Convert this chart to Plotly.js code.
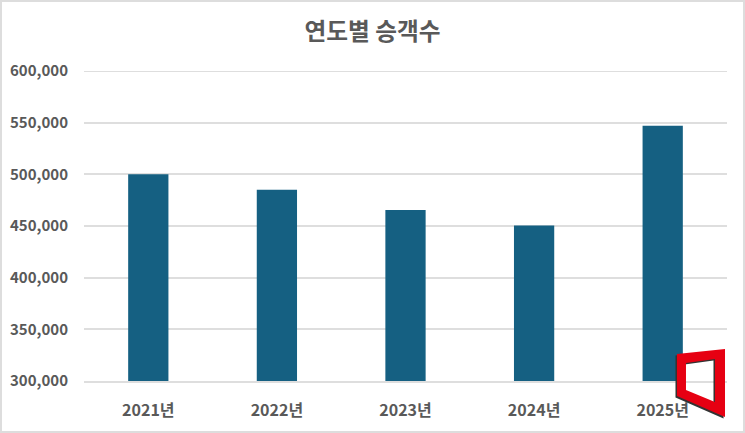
<!DOCTYPE html>
<html><head><meta charset="utf-8">
<script src="https://cdn.plot.ly/plotly-3.0.0.min.js"></script>
<style>html,body{margin:0;padding:0;background:#fff}</style></head>
<body><div id="c" style="width:745px;height:433px"></div>
<script>
const years = ['2021년','2022년','2023년','2024년','2025년'];
const passengers = [500000,485000,465500,450500,547000];
const tickValues = [300000,350000,400000,450000,500000,550000,600000];
const titleText = '연도별 승객수';
const font = '"Noto Sans CJK KR", "Noto Sans", sans-serif';
const W=745,H=433,L=84,R=18,T=71,B=52;
const px=(x,y)=>((x-L)/(W-L-R)).toFixed(4)+' '+((H-B-y)/(H-T-B)).toFixed(4);
const poly=a=>'M '+a.map(p=>px(p[0],p[1])).join(' L ')+' Z';
const outer=[[677,354],[725,349],[725,417],[677,396]];
const hole=[[686,390],[715,402],[715,359],[686,363]];
const shift=a=>a.map(p=>[p[0]-1.5,p[1]+1.5]);
Plotly.newPlot('c',[{type:'bar',x:years,y:passengers,marker:{color:'#156082'},width:0.313,hoverinfo:'x+y'}],{
 width:W,height:H,paper_bgcolor:'#fff',plot_bgcolor:'#fff',
 margin:{l:L,r:R,t:T,b:B},showlegend:false,
 title:{text:titleText,x:0.5,xanchor:'center',y:0.927,yanchor:'middle',font:{family:font,size:23.7,color:'#595959',weight:'bold'}},
 xaxis:{type:'category',showgrid:false,showline:true,linecolor:'#dedede',linewidth:1.5,ticks:'',ticklabelstandoff:14,tickfont:{family:font,size:16,color:'#595959',weight:'bold'}},
 yaxis:{range:[300000,600000],tickvals:tickValues,tickformat:',d',gridcolor:'#dedede',gridwidth:1.5,zeroline:false,showline:false,ticks:'',ticklabelstandoff:15,tickfont:{family:font,size:15,color:'#595959',weight:'bold'}},
 shapes:[
  {type:'line',xref:'paper',yref:'y',x0:0,x1:1,y0:600000,y1:600000,line:{color:'#dedede',width:2},layer:'below'},
  {type:'rect',xref:'paper',yref:'paper',x0:(1-L)/(W-L-R),x1:(W-1-L)/(W-L-R),y0:(H-B-H+1)/(H-T-B),y1:(H-B-1)/(H-T-B),line:{color:'#dddddd',width:2},fillcolor:'rgba(0,0,0,0)'},
  {type:'path',xref:'paper',yref:'paper',path:poly(shift(outer))+' '+poly(shift(hole)),line:{width:0},fillcolor:'#333333'},
  {type:'path',xref:'paper',yref:'paper',path:poly(outer)+' '+poly(hole),line:{width:0},fillcolor:'#e60012'}
 ]
},{displayModeBar:false});
</script></body></html>
